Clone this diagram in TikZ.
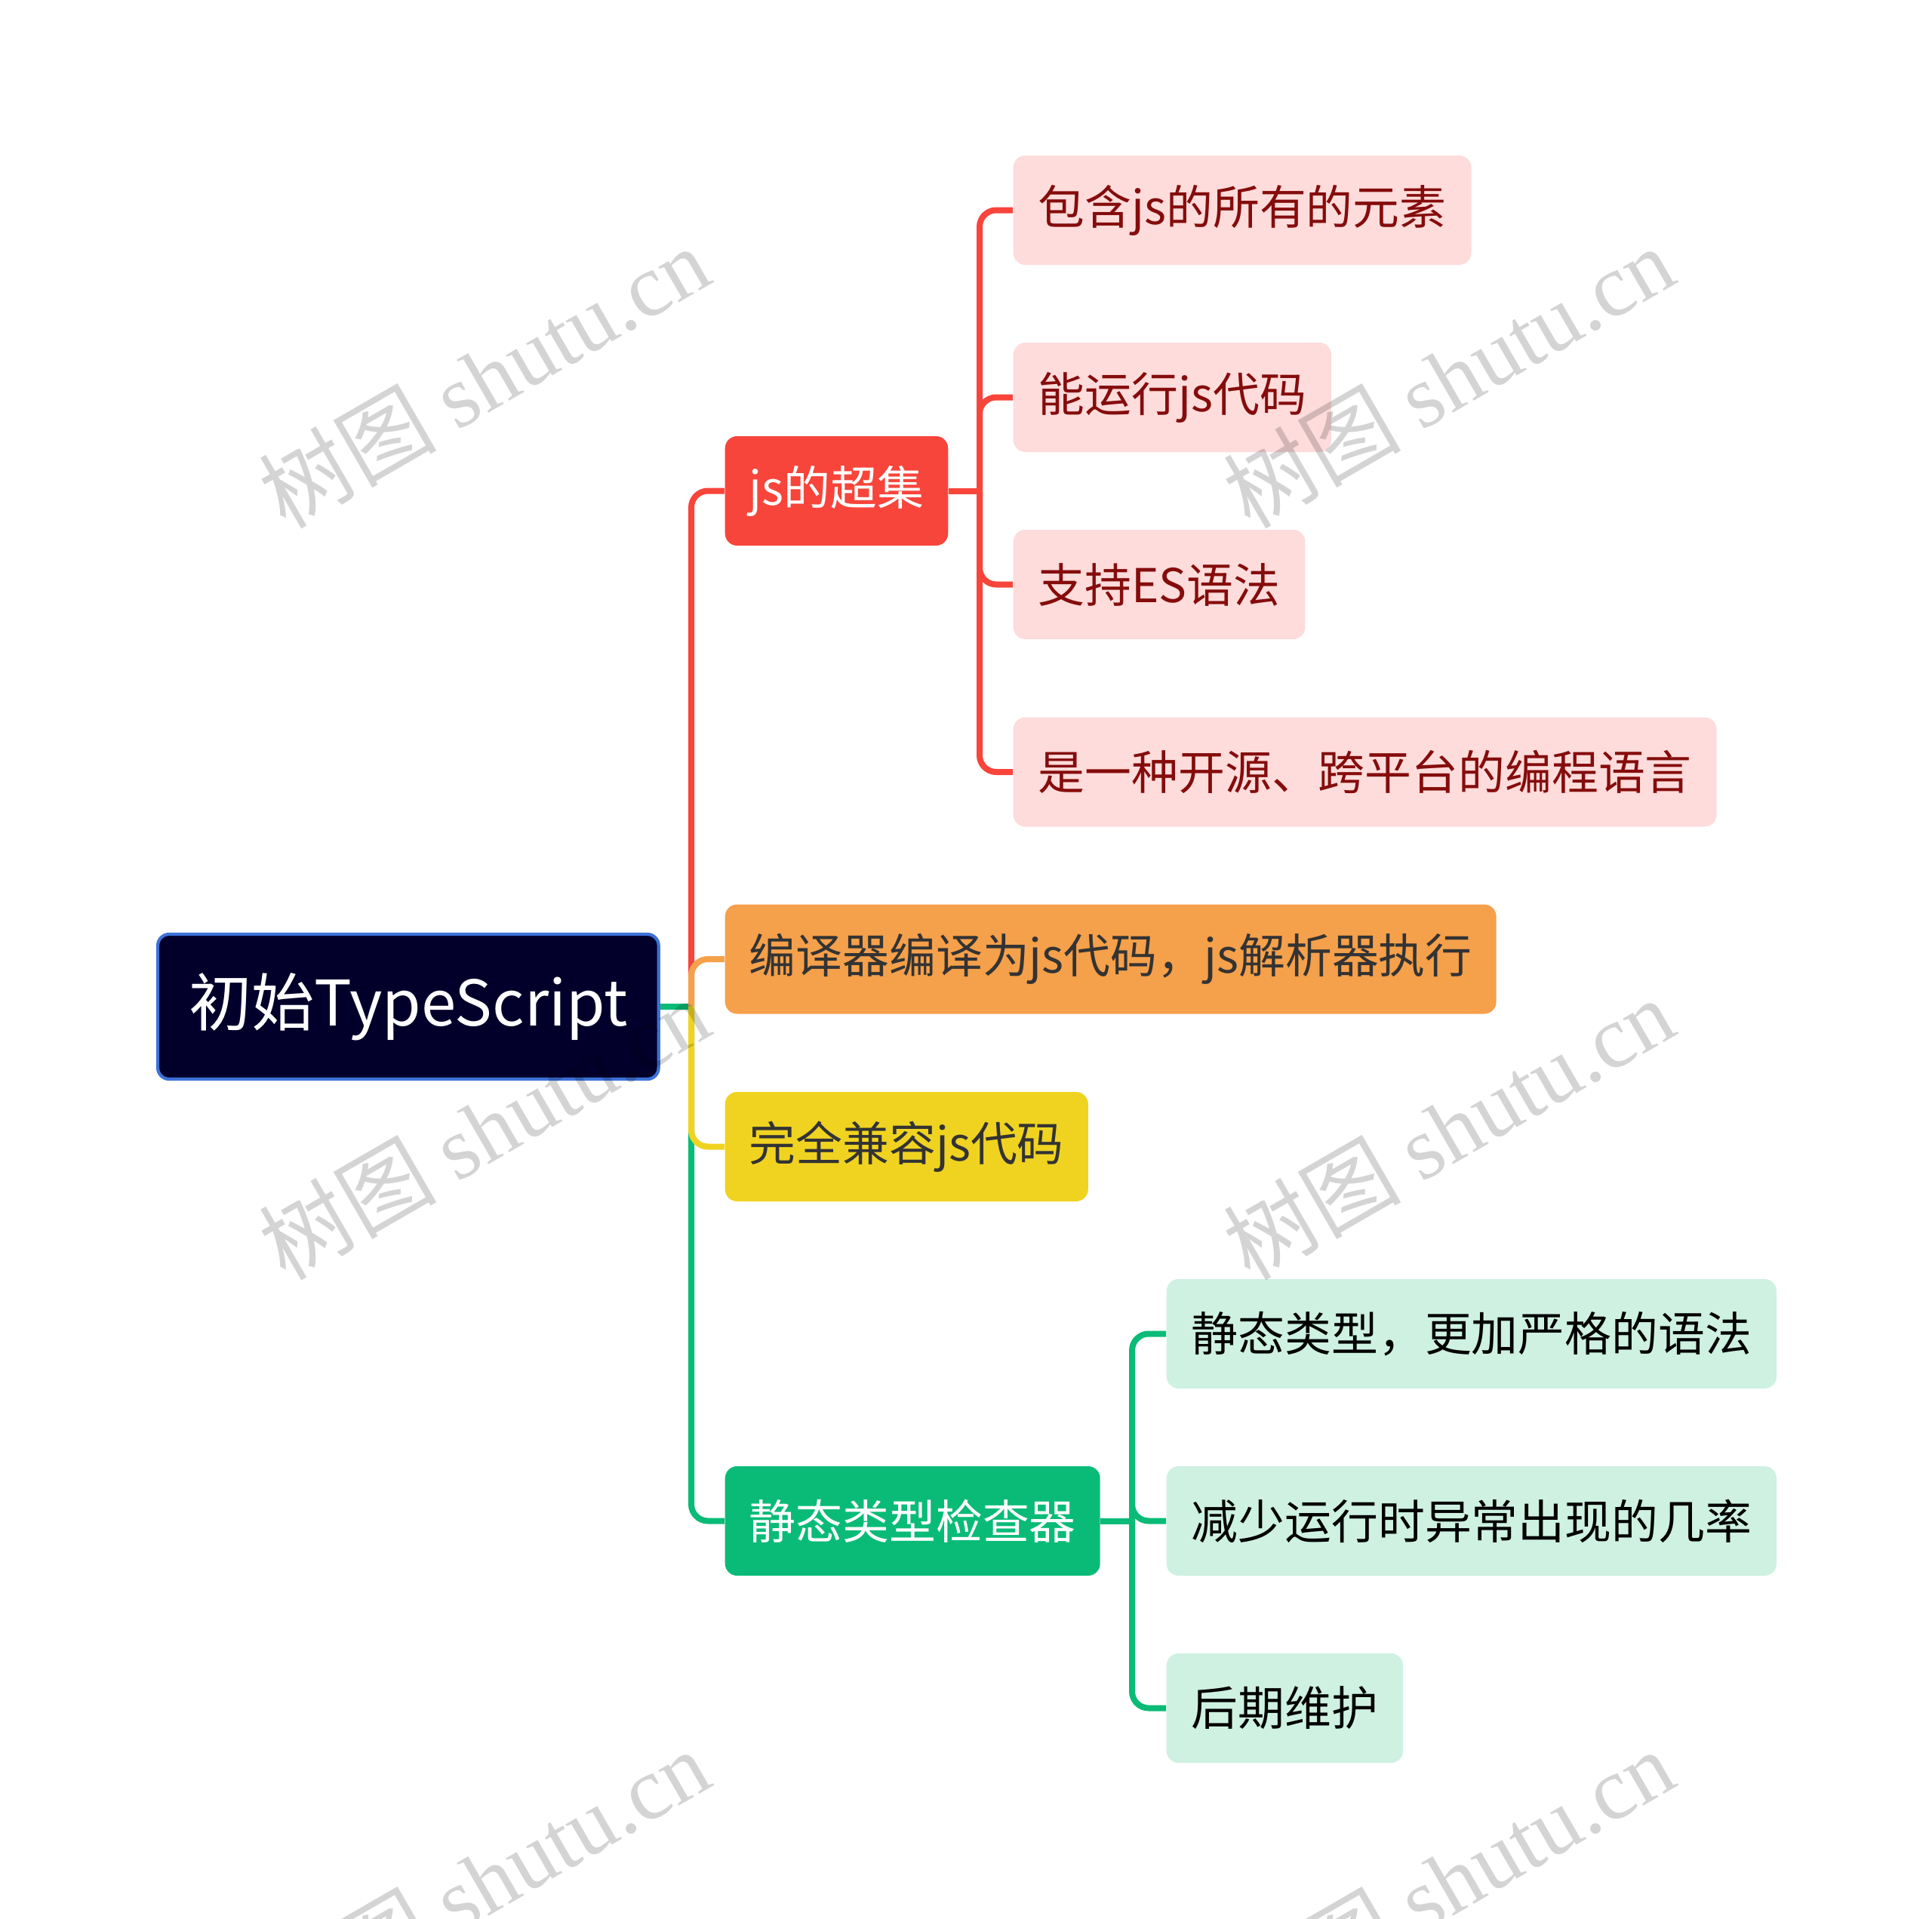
\documentclass[tikz,border=0pt]{standalone}
\usepackage{fontspec}
\setmainfont{Noto Sans CJK SC}
\newfontfamily\markfont{Liberation Serif}
\definecolor{rootnavy}{HTML}{02002A}
\definecolor{rootblue}{HTML}{3C72D8}
\definecolor{branchred}{HTML}{F7453B}
\definecolor{branchorange}{HTML}{F5A04B}
\definecolor{branchyellow}{HTML}{F0D321}
\definecolor{branchgreen}{HTML}{0ABB77}
\definecolor{softpink}{HTML}{FDDCDB}
\definecolor{softmint}{HTML}{CEF1E1}
\definecolor{darkred}{HTML}{850C0C}
\definecolor{darktext}{HTML}{333333}
\tikzset{
  rootnode/.style={draw=rootblue, line width=1.2pt, fill=rootnavy, text=white, rounded corners=0.15cm, anchor=west, minimum height=1.92cm, inner xsep=0.41cm, inner ysep=0pt, font=\fontsize{23.7pt}{28pt}\selectfont},
  topicnode/.style={rounded corners=0.16cm, anchor=west, minimum height=1.45cm, inner xsep=0.32cm, inner ysep=0pt, font=\fontsize{17.6pt}{21pt}\selectfont},
  subnode/.style={rounded corners=0.16cm, anchor=west, minimum height=1.45cm, inner xsep=0.33cm, inner ysep=0pt, font=\fontsize{17.6pt}{21pt}\selectfont},
  redtopic/.style={topicnode, fill=branchred, text=white},
  orangetopic/.style={topicnode, fill=branchorange, text=darktext},
  yellowtopic/.style={topicnode, fill=branchyellow, text=darktext},
  greentopic/.style={topicnode, fill=branchgreen, text=white},
  pinkleaf/.style={subnode, fill=softpink, text=darkred},
  mintleaf/.style={subnode, fill=softmint, text=black},
  link/.style={line width=0.08cm, rounded corners=0.22cm},
  watermark/.style={text=black, opacity=0.17, rotate=30, font=\fontsize{33.5pt}{40pt}\selectfont}
}
\begin{document}
\begin{tikzpicture}
  \useasboundingbox (0,0) rectangle (25.60,-25.43);
  % hubs where the branches split
  \coordinate (hub) at (9.16,-13.34);
  \coordinate (jshub) at (12.98,-6.505);
  \coordinate (checkhub) at (15.00,-20.155);
  % nodes
  \node[rootnode] (root) at (2.07,-13.34) {初始TypeScript};
  \node[redtopic] (superset) at (9.60,-6.505) {js的超集};
  \node[orangetopic] (compile) at (9.60,-12.71) {编译器编译为js代码，js解析器执行};
  \node[yellowtopic] (compat) at (9.60,-15.195) {完全兼容js代码};
  \node[greentopic] (checker) at (9.60,-20.155) {静态类型检查器};
  \node[pinkleaf] (elements) at (13.42,-2.785) {包含js的所有的元素};
  \node[pinkleaf] (runjs) at (13.42,-5.265) {能运行js代码};
  \node[pinkleaf] (essyntax) at (13.42,-7.745) {支持ES语法};
  \node[pinkleaf] (opensource) at (13.42,-10.23) {是一种开源、跨平台的编程语言};
  \node[mintleaf] (strict) at (15.45,-17.675) {静态类型，更加严格的语法};
  \node[mintleaf] (fewer) at (15.45,-20.155) {减少运行时异常出现的几率};
  \node[mintleaf] (maintain) at (15.45,-22.635) {后期维护};
  % connectors
  \draw[link, branchred] (hub) |- (superset.west);
  \draw[link, branchred] (superset.east) -- (jshub);
  \foreach \leaf in {elements,runjs,essyntax,opensource}
    \draw[link, branchred] (jshub) |- (\leaf.west);
  \draw[link, branchgreen] (root.east) -- (hub);
  \draw[link, branchgreen] (hub) |- (checker.west);
  \draw[link, branchorange] (hub) |- (compile.west);
  \draw[link, branchyellow] (hub) |- (compat.west);
  \draw[link, branchgreen] (checker.east) -- (checkhub);
  \foreach \leaf in {strict,fewer,maintain}
    \draw[link, branchgreen] (checkhub) |- (\leaf.west);
  % watermark
  \begin{scope}
    \clip (0,0) rectangle (25.60,-25.43);
    \foreach \wx/\wy in {6.41/-4.99, 19.19/-4.99, 6.41/-14.95, 19.19/-14.95, 6.41/-24.91, 19.19/-24.91}
      \node[watermark] at (\wx,\wy) {树图 {\markfont shutu.cn}};
  \end{scope}
\end{tikzpicture}
\end{document}
